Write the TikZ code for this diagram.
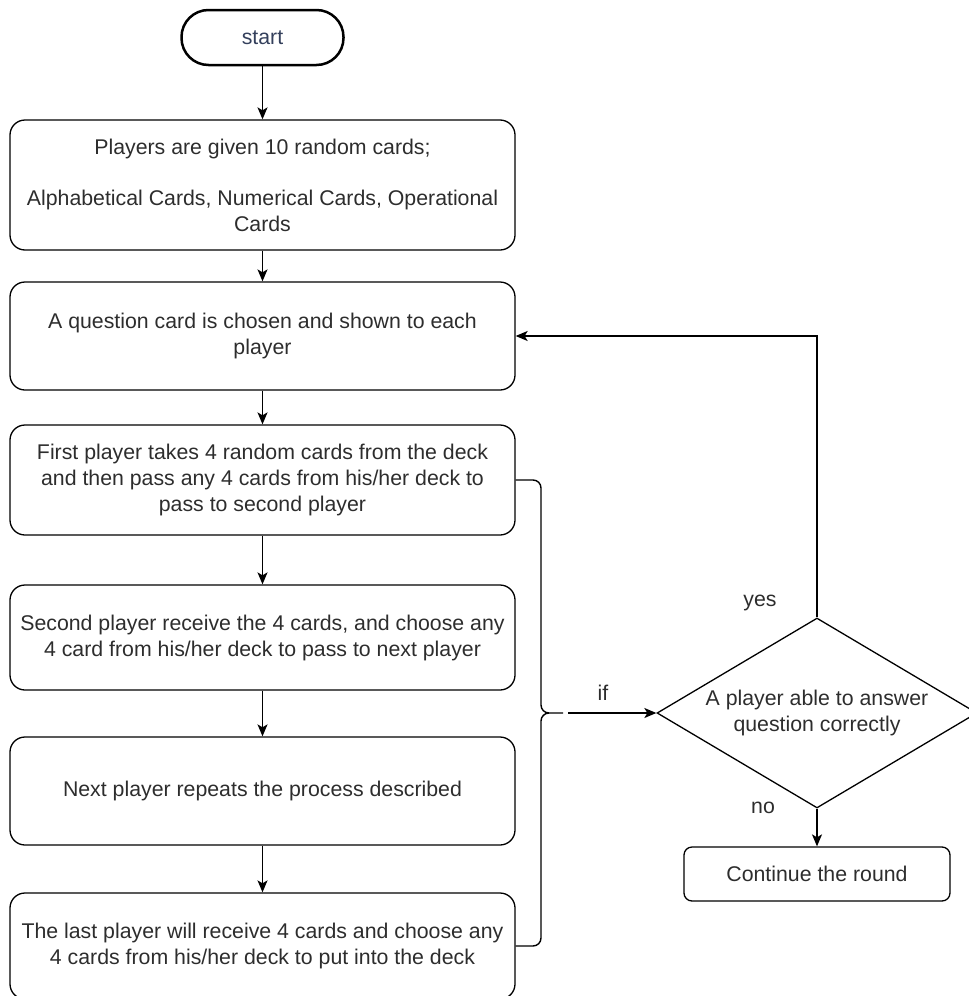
\documentclass[tikz,border=0pt]{standalone}
\usepackage{fontspec}
\setmainfont{Liberation Sans}
\usetikzlibrary{shapes.geometric,arrows.meta}
\definecolor{txt}{RGB}{45,45,45}
\definecolor{starttxt}{RGB}{52,64,92}
\begin{document}
\begin{tikzpicture}[x=1pt,y=-1pt,
  every node/.style={font=\fontsize{21.3}{26}\selectfont, text=txt},
  proc/.style={draw, line width=1.3pt, rounded corners=15pt, minimum width=505pt, align=center, inner sep=0pt},
  arr/.style={-{Stealth[length=12pt,width=10pt,inset=3pt]}, line width=1.4pt},
  conn/.style={line width=1.4pt},
  lbl/.style={inner sep=0pt}
]
\useasboundingbox (0,0) rectangle (969,996);
\clip (0,0) rectangle (969,996);

% start
\node[draw, line width=2.5pt, rounded corners=27pt, minimum width=162pt, minimum height=55pt, inner sep=0pt, text=starttxt] (start) at (262.5,37.5) {start};

% process boxes
\node[proc, minimum height=130pt] (b1) at (262.5,185) {Players are given 10 random cards;\\[25pt]Alphabetical Cards, Numerical Cards, Operational\\Cards};
\node[proc, minimum height=108pt] (b2) at (262.5,336) {A question card is chosen and shown to each\\player};
\node[proc, minimum height=110pt] (b3) at (262.5,480) {First player takes 4 random cards from the deck\\and then pass any 4 cards from his/her deck to\\pass to second player};
\node[proc, minimum height=105pt] (b4) at (262.5,637.5) {Second player receive the 4 cards, and choose any\\4 card from his/her deck to pass to next player};
\node[proc, minimum height=108pt] (b5) at (262.5,791) {Next player repeats the process described};
\node[proc, minimum height=106pt] (b6) at (262.5,946) {The last player will receive 4 cards and choose any\\4 cards from his/her deck to put into the deck};

% decision
\node[diamond, draw, line width=1.3pt, minimum width=320pt, minimum height=190pt, inner sep=0pt] (dia) at (817,713) {};
\node[align=center, inner sep=0pt] (diatext) at (817,713) {A player able to answer\\question correctly};

% continue
\node[draw, line width=1.3pt, rounded corners=8pt, minimum width=266pt, minimum height=54pt, inner sep=0pt] (cont) at (817,874) {Continue the round};

% vertical arrows
\draw[arr] (start) -- (b1);
\draw[arr] (b1) -- (b2);
\draw[arr] (b2) -- (b3);
\draw[arr] (b3) -- (b4);
\draw[arr] (b4) -- (b5);
\draw[arr] (b5) -- (b6);
\draw[arr] (dia.south) -- (cont.north);
\draw[arr] (dia.north) |- (b2.east);

% brace
\coordinate (brx) at (541,713);
\coordinate (brtail) at (563,713);
\coordinate (brtip) at (549,713);
\draw[conn, rounded corners=8pt] (b3.east) -| (brx) -- (brtail);
\draw[conn, rounded corners=8pt] (b6.east) -| (brx) -- (brtip);

% if arrow
\coordinate (ifs) at (568,713);
\draw[arr] (ifs) -- (dia.west);

% labels
\node[lbl] (lif) at (603,693) {if};
\node[lbl] (lyes) at (760,603) {yes};
\node[lbl] (lno) at (763,808) {no};
\end{tikzpicture}
\end{document}
